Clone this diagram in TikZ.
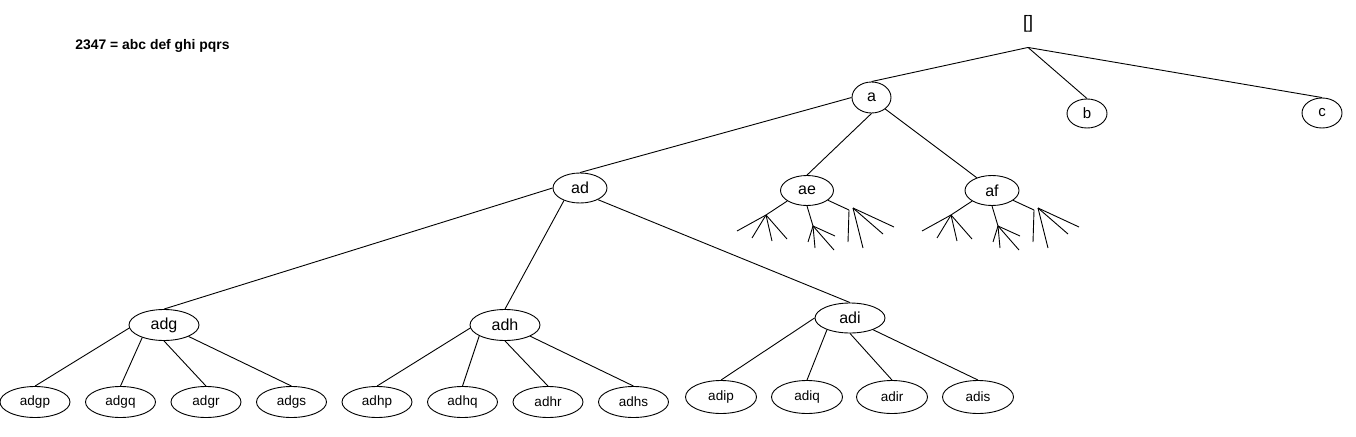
\documentclass[tikz,border=0pt]{standalone}
\usepackage{fontspec}
\setmainfont{Liberation Sans}
\usetikzlibrary{shapes.geometric}
\tikzset{
  inner/.style={draw, ellipse, inner sep=0pt, font=\fontsize{16}{18}\selectfont},
  leaf/.style={draw, ellipse, inner sep=0pt, minimum width=70pt, minimum height=31pt, font=\fontsize{13.5}{15}\selectfont},
  leafi/.style={leaf, minimum width=71pt, minimum height=33pt},
}
\begin{document}
\begin{tikzpicture}[x=1pt, y=-1pt, line width=0.9pt]
\useasboundingbox (0,0) rectangle (1356,436);
\node[font=\bfseries\fontsize{13.9}{16}\selectfont, anchor=base west, inner sep=0pt] (title) at (75,50) {2347 = abc def ghi pqrs};
\node[inner sep=0pt, minimum height=46pt, font=\fontsize{18}{20}\selectfont] (root) at (1028,24) {[]};
\node[inner, minimum width=39pt, minimum height=31pt] (a) at (871.5,97.5) {a};
\node[inner, minimum width=40pt, minimum height=29pt, font=\fontsize{15}{17}\selectfont] (b) at (1087,113.5) {b};
\node[inner, minimum width=40pt, minimum height=30pt, font=\fontsize{15}{17}\selectfont] (c) at (1322,113) {c};
\node[inner, minimum width=54pt, minimum height=30pt] (ad) at (580,188) {ad};
\node[inner, minimum width=53pt, minimum height=30pt] (ae) at (807,190.5) {ae};
\node[inner, minimum width=54pt, minimum height=30pt] (af) at (992,190.5) {af};
\node[inner, minimum width=70pt, minimum height=31pt] (adg) at (164,325) {adg};
\node[inner, minimum width=70pt, minimum height=31pt] (adh) at (505,325) {adh};
\node[inner, minimum width=70pt, minimum height=30pt] (adi) at (850,318) {adi};
\node[leaf] (adgp) at (35,402) {adgp};
\node[leaf] (adgq) at (120.5,402) {adgq};
\node[leaf] (adgr) at (206,402) {adgr};
\node[leaf] (adgs) at (291.5,402) {adgs};
\node[leaf] (adhp) at (377,402) {adhp};
\node[leaf] (adhq) at (462.5,402) {adhq};
\node[leaf] (adhr) at (548,402) {adhr};
\node[leaf] (adhs) at (633.5,402) {adhs};
\node[leafi] (adip) at (721,397) {adip};
\node[leafi] (adiq) at (807,397) {adiq};
\node[leafi] (adir) at (892,397) {adir};
\node[leafi] (adis) at (978,397) {adis};
% edges
\draw (root.south) -- (a.north);
\draw (root.south) -- (b.north);
\draw (root.south) -- (c.north);
\draw (a.west) -- (ad.north);
\draw (a.south) -- (ae.north);
\draw (a.320) -- (af.140);
\draw (ad.west) -- (adg.north);
\draw (ad.218) -- (adh.north);
\draw (ad.327) -- (adi.north);
\draw (adg.185) -- (adgp.north);
\draw (adg.210) -- (adgq.north);
\draw (adg.270) -- (adgr.north);
\draw (adg.335) -- (adgs.north);
\draw (adh.185) -- (adhp.north);
\draw (adh.203) -- (adhq.north);
\draw (adh.270) -- (adhr.north);
\draw (adh.336) -- (adhs.north);
\draw (adi.180) -- (adip.north);
\draw (adi.207) -- (adiq.north);
\draw (adi.270) -- (adir.north);
\draw (adi.333) -- (adis.north);
% small unlabelled fans below ae and af
\foreach \n/\cx in {ae/807, af/992} {
  \coordinate (\n-L) at ({\cx-41},215);
  \coordinate (\n-M) at ({\cx+6},226);
  \coordinate (\n-R) at ({\cx+42},210);
  \coordinate (\n-S) at ({\cx+46},208);
  \draw (\n.208) -- (\n-L);
  \draw (\n.south) -- (\n-M);
  \draw (\n.335) -- (\n-R);
  \foreach \dx/\y in {-70/231, -55/238, -35/241, -20/239}
    \draw (\n-L) -- ({\cx+\dx},\y);
  \foreach \dx/\y in {1/242, 8/248, 27/250, 28/236}
    \draw (\n-M) -- ({\cx+\dx},\y);
  \draw (\n-R) -- ({\cx+41},242);
  \foreach \dx/\y in {56/248, 76/234, 87/227}
    \draw (\n-S) -- ({\cx+\dx},\y);
}
\end{tikzpicture}
\end{document}
